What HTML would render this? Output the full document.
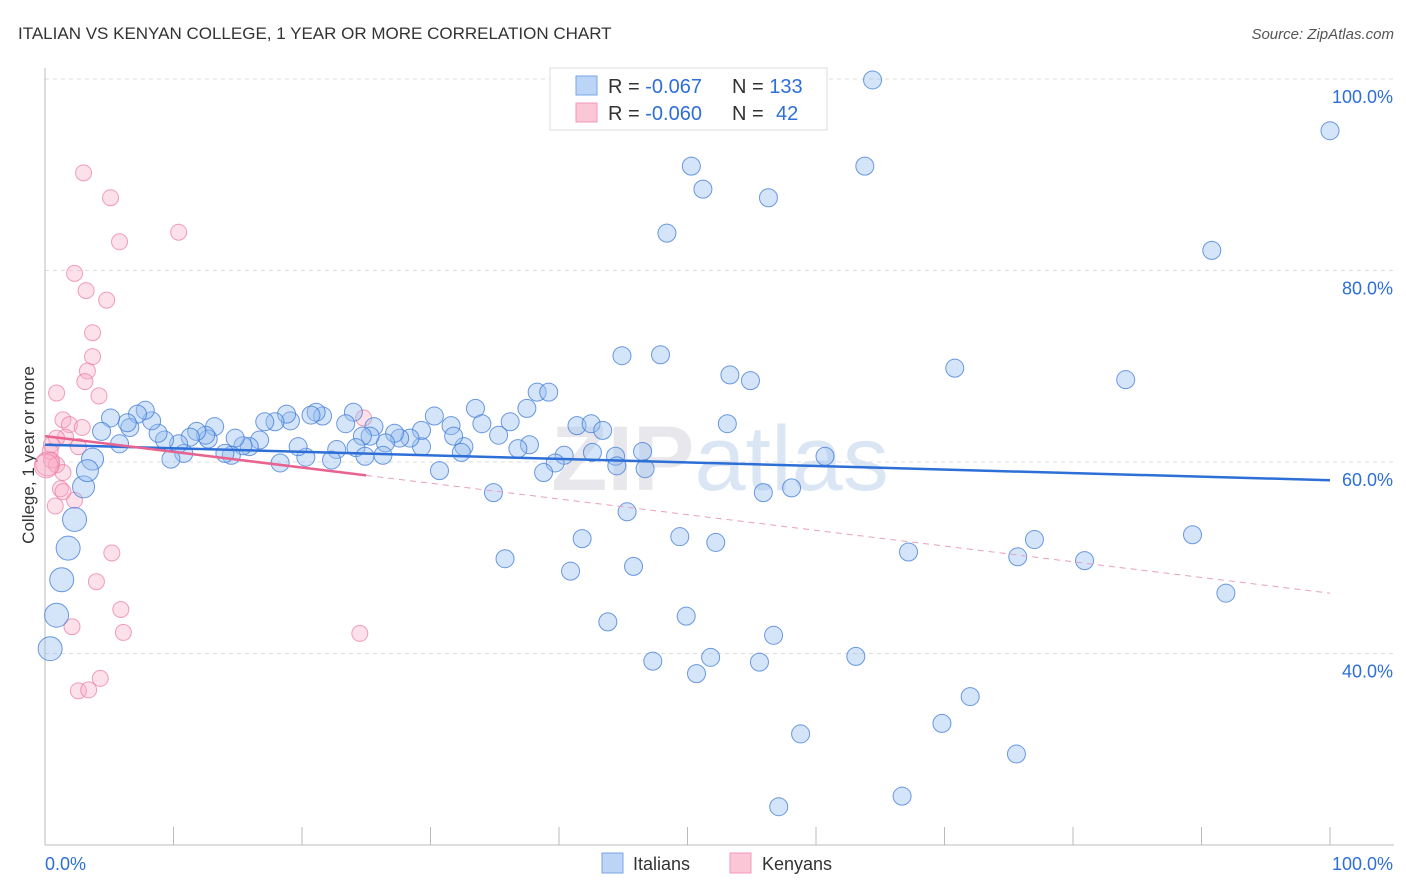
<!DOCTYPE html>
<html><head><meta charset="utf-8"><style>
body{margin:0;background:#fff;font-family:"Liberation Sans",sans-serif}
svg{display:block}
</style></head><body>
<svg id="chart" width="1406" height="892" xmlns="http://www.w3.org/2000/svg">
<text x="18" y="39" font-size="17" fill="#333">ITALIAN VS KENYAN COLLEGE, 1 YEAR OR MORE CORRELATION CHART</text>
<text x="1394" y="39" font-size="15" fill="#555" font-style="italic" text-anchor="end">Source: ZipAtlas.com</text>
<text x="720" y="490" font-size="92" fill="#e8e8ec" text-anchor="middle" font-weight="bold">ZIP<tspan fill="#dbe6f5" font-weight="normal">atlas</tspan></text>
<text transform="translate(34,455) rotate(-90)" font-size="17" fill="#333" text-anchor="middle">College, 1 year or more</text>
<g id="grid"></g>
<g id="axes"></g>
<g id="pts"></g>
<g id="lines"></g>
<g>
<rect x="550" y="68" width="277" height="62" fill="#fff" stroke="#ddd"/>
<rect x="576" y="76" width="21" height="19" fill="#bcd4f5" stroke="#7aa6e8"/>
<rect x="576" y="103" width="21" height="19" fill="#fbc6d6" stroke="#f09ab5"/>
<text x="608" y="93" font-size="20" fill="#333">R = <tspan fill="#2d6fd6">-0.067</tspan><tspan x="732">N = </tspan><tspan fill="#2d6fd6">133</tspan></text>
<text x="608" y="120" font-size="20" fill="#333">R = <tspan fill="#2d6fd6">-0.060</tspan><tspan x="732">N = </tspan><tspan fill="#2d6fd6" x="776">42</tspan></text>
</g>
<g>
<rect x="602" y="853" width="21" height="20" fill="#bcd4f5" stroke="#7aa6e8"/>
<text x="633" y="870" font-size="18" fill="#333">Italians</text>
<rect x="730" y="853" width="21" height="20" fill="#fbc6d6" stroke="#f09ab5"/>
<text x="762" y="870" font-size="18" fill="#333">Kenyans</text>
</g>
</svg>
<script>
const yTicks=[100,80,60,40];
const yTickLabels=["100.0%","80.0%","60.0%","40.0%"];
const xTicks=[0,10,20,30,40,50,60,70,80,90,100];
const blueX=[64.4,100,50.3,63.8,51.2,56.3,48.4,90.8,44.9,47.9,53.3,54.9,70.8,84.1,38.3,39.2,33.5,37.5,53.1,89.3,91.9,77.0,75.7,80.9,67.2,60.7,58.1,55.9,52.2,49.4,45.3,45.8,41.8,40.9,35.8,34.9,43.8,49.9,56.7,47.3,51.8,55.6,63.1,50.7,72.0,69.8,58.8,75.6,57.1,66.7,44.4,46.5,44.5,46.7,42.6,41.4,42.5,43.4,40.4,39.7,38.8,37.7,36.8,36.2,35.3,34.0,32.6,32.4,31.6,31.8,30.7,30.3,29.3,29.3,28.4,27.6,27.2,26.5,25.6,25.3,24.7,24.0,23.4,24.2,24.9,26.3,22.7,22.3,21.6,21.1,20.7,19.1,18.8,20.3,19.7,18.3,17.9,17.1,16.7,15.9,15.4,14.8,14.5,14.0,13.2,12.7,12.5,11.8,11.3,10.8,10.4,9.3,8.8,9.8,8.3,7.8,7.2,6.6,5.8,6.4,5.1,4.4,3.7,3.0,3.3,2.3,1.8,1.3,0.9,0.4,54.5];
const blueY=[99.9,94.6,90.9,90.9,88.5,87.6,83.9,82.1,71.1,71.2,69.1,68.5,69.8,68.6,67.3,67.3,65.6,65.6,64.0,52.4,46.3,51.9,50.1,49.7,50.6,60.6,57.3,56.8,51.6,52.2,54.8,49.1,52.0,48.6,49.9,56.8,43.3,43.9,41.9,39.2,39.6,39.1,39.7,37.9,35.5,32.7,31.6,29.5,24.0,25.1,60.6,61.1,59.6,59.3,61.0,63.8,64.0,63.3,60.7,59.9,58.9,61.8,61.4,64.2,62.8,64.0,61.6,61.0,63.8,62.7,59.1,64.8,61.6,63.3,62.5,62.5,63.0,62.0,63.7,62.7,62.7,65.2,64.0,61.5,60.6,60.7,61.3,60.2,64.8,65.2,64.9,64.3,65.0,60.5,61.6,59.9,64.2,64.2,62.3,61.6,61.7,62.5,60.7,60.9,63.7,62.4,62.8,63.2,62.6,60.9,61.9,62.3,63.0,60.3,64.3,65.4,65.0,63.6,61.9,64.1,64.6,63.2,60.3,57.4,59.1,54.0,51.0,47.7,44.0,40.5,97.4];
const pinkX=[3.0,5.1,5.8,10.4,2.3,3.2,4.8,3.7,3.7,3.3,3.1,0.9,4.2,1.4,1.9,2.9,1.6,0.9,2.6,0.5,0.4,0.5,0.9,0.2,1.4,1.2,2.3,0.8,1.4,24.8,5.2,4.0,5.9,6.1,2.1,24.5,4.3,2.6,3.4,0.1];
const pinkY=[90.2,87.6,83.0,84.0,79.7,77.9,76.9,73.5,71.0,69.5,68.4,67.2,66.9,64.4,63.9,63.6,62.6,62.5,61.6,61.8,61.1,60.2,59.7,59.8,58.9,57.2,56.0,55.4,56.9,64.6,50.5,47.5,44.6,42.2,42.8,42.1,37.4,36.1,36.2,59.6];
const blueFit=[61.8,58.1];
const pinkFit=[62.7,46.3];
const pinkSolidEnd=25;
const X=v=>45+v*12.85, Y=v=>79+(100-v)*9.575;
const NS="http://www.w3.org/2000/svg";
function mk(t,a,p){const e=document.createElementNS(NS,t);for(const k in a)e.setAttribute(k,a[k]);p.appendChild(e);return e;}
const grid=document.getElementById('grid'),axes=document.getElementById('axes'),pts=document.getElementById('pts'),lines=document.getElementById('lines');
yTicks.forEach((t,i)=>{
 const g=mk('line',{x1:45,x2:1394,y1:Y(t),y2:Y(t),stroke:'#ddd','stroke-dasharray':'4,4'},grid);
 
 
 const tx=mk('text',{x:1393,y:Y(t)+24,'font-size':18,fill:'#2d6fd6','text-anchor':'end'},axes);
 tx.textContent=yTickLabels[i];
 
 
});
let ax=mk('line',{x1:45,x2:1394,y1:845,y2:845,stroke:'#bbb'},axes);


let ay=mk('line',{x1:45,x2:45,y1:68,y2:845,stroke:'#bbb'},axes);


xTicks.forEach(t=>{const l=mk('line',{x1:X(t),x2:X(t),y1:827,y2:845,stroke:'#bbb'},axes);
 
 });
let xl=mk('text',{x:45,y:870,'font-size':18,fill:'#2d6fd6'},axes);xl.textContent='0.0%';


let xr=mk('text',{x:1393,y:870,'font-size':18,fill:'#2d6fd6','text-anchor':'end'},axes);xr.textContent='100.0%';


pinkX.forEach((x,i)=>{const c=mk('circle',{cx:X(x),cy:Y(pinkY[i]),r:x<0.3?12:8,fill:'rgba(248,170,195,0.35)',stroke:'rgba(235,120,160,0.7)','stroke-width':1},pts);
 
 });
blueX.forEach((x,i)=>{const r=x<2.5?12:(x<4?11:9);const c=mk('circle',{cx:X(x),cy:Y(blueY[i]),r:r,fill:'rgba(150,190,240,0.4)',stroke:'rgba(60,120,215,0.75)','stroke-width':1},pts);
 
 });
const pAt=v=>pinkFit[0]+(pinkFit[1]-pinkFit[0])*v/100;
let l1=mk('line',{x1:X(0),y1:Y(blueFit[0]),x2:X(100),y2:Y(blueFit[1]),stroke:'#2d6fd6','stroke-width':2.5},lines);


let l2=mk('line',{x1:X(0),y1:Y(pAt(0)),x2:X(pinkSolidEnd),y2:Y(pAt(pinkSolidEnd)),stroke:'#e8638f','stroke-width':2.5},lines);


let l3=mk('line',{x1:X(pinkSolidEnd),y1:Y(pAt(pinkSolidEnd)),x2:X(100),y2:Y(pAt(100)),stroke:'#e8a0b8','stroke-width':1,'stroke-dasharray':'6,5'},lines);


</script>
</body></html>
